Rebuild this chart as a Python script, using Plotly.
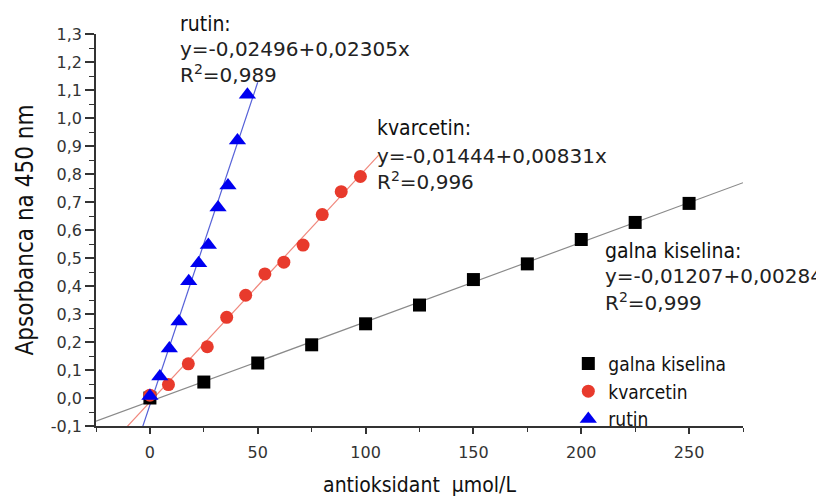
import plotly.graph_objects as go

# ---------------- data ----------------
series_names = ["galna kiselina", "kvarcetin", "rutin"]

gal_x = [0, 25, 50, 75, 100, 125, 150, 175, 200, 225, 250]
gal_y = [0.0, 0.057, 0.125, 0.19, 0.265, 0.332, 0.423, 0.479, 0.566, 0.627, 0.695]

kv_x = [0, 8.6, 17.8, 26.6, 35.6, 44.4, 53.3, 62.1, 71.0, 79.9, 88.7, 97.6]
kv_y = [0.01, 0.048, 0.122, 0.183, 0.288, 0.367, 0.443, 0.485, 0.546, 0.655, 0.737, 0.791]

rut_x = [0, 4.6, 9.0, 13.5, 18.0, 22.6, 27.1, 31.6, 36.2, 40.6, 45.2]
rut_y = [0.007, 0.077, 0.177, 0.273, 0.417, 0.481, 0.546, 0.68, 0.759, 0.92, 1.083]

# linear fits y = a + b x
fit_a = [-0.01207, -0.01444, -0.02496]
fit_b = [0.00284, 0.00831, 0.02305]
fit_r2 = ["0,999", "0,996", "0,989"]
fit_a_txt = ["-0,01207", "-0,01444", "-0,02496"]
fit_b_txt = ["0,00284", "0,00831x", "0,02305x"]
fit_x_start = [-25, -25, -25]
fit_x_end = [275, 106, 50]

x_tick_vals = [0, 50, 100, 150, 200, 250]
x_tick_text = ["0", "50", "100", "150", "200", "250"]
y_tick_vals = [-0.1, 0.0, 0.1, 0.2, 0.3, 0.4, 0.5, 0.6, 0.7, 0.8, 0.9, 1.0, 1.1, 1.2, 1.3]
y_tick_text = ["-0,1", "0,0", "0,1", "0,2", "0,3", "0,4", "0,5", "0,6", "0,7",
               "0,8", "0,9", "1,0", "1,1", "1,2", "1,3"]

# ---------------- style ----------------
COND = "DejaVu Sans Condensed, Liberation Sans Narrow, Roboto, sans-serif"
NUM = "DejaVu Sans, Arial, sans-serif"
marker_colors = ["#000000", "#e83a2c", "#0000f0"]
line_colors = ["#8a8a8a", "#f0877c", "#5560d8"]
symbols = ["square", "circle", "triangle-up"]
sizes = [13, 13, 15]

# plot area in page pixels (for placing the text blocks)
PX0, PW, PY0, PH = 96, 647, 34, 400

def px(x):
    return (x - PX0) / PW

def py(y):
    return (PY0 + PH - y) / PH

fig = go.Figure()

# fit lines first (underneath markers)
for i in range(3):
    xs = [fit_x_start[i], fit_x_end[i]]
    ys = [fit_a[i] + fit_b[i] * v for v in xs]
    fig.add_trace(go.Scatter(x=xs, y=ys, mode="lines",
                             line=dict(color=line_colors[i], width=1.2),
                             showlegend=False, hoverinfo="skip"))

data_x = [gal_x, kv_x, rut_x]
data_y = [gal_y, kv_y, rut_y]
for i in range(3):
    fig.add_trace(go.Scatter(x=data_x[i], y=data_y[i], mode="markers",
                             name=series_names[i],
                             marker=dict(symbol=symbols[i], size=sizes[i],
                                         color=marker_colors[i],
                                         line=dict(width=0))))

# equation annotations (page-pixel positions: left x, label y, eq y, R2 y)
label_pos = [(603, 255, 281, 307), (375, 130, 158, 184), (178, 24, 49, 75)]
for i in range(3):
    x0, y1, y2, y3 = label_pos[i]
    fig.add_annotation(x=px(x0), y=py(y1), xref="paper", yref="paper",
                       xanchor="left", yanchor="middle",
                       text=series_names[i] + ":", showarrow=False,
                       font=dict(family=COND, size=21, color="#111"))
    fig.add_annotation(x=px(x0), y=py(y2), xref="paper", yref="paper",
                       xanchor="left", yanchor="middle",
                       text="y=" + fit_a_txt[i] + "+" + fit_b_txt[i], showarrow=False,
                       font=dict(family=NUM, size=20, color="#222"))
    fig.add_annotation(x=px(x0), y=py(y3), xref="paper", yref="paper",
                       xanchor="left", yanchor="middle",
                       text="R<sup>2</sup>=" + fit_r2[i], showarrow=False,
                       font=dict(family=NUM, size=20, color="#222"))

# page body has an 8px margin, so the figure's own margins are shifted by 8
fig.update_layout(
    width=824, height=497,
    margin=dict(l=PX0 - 8, r=824 - (PX0 + PW - 8), t=PY0 - 8, b=497 - (PY0 + PH - 8)),
    paper_bgcolor="white", plot_bgcolor="white",
    legend=dict(x=0.730, y=0.2075, xanchor="left", yanchor="top",
                font=dict(family=COND, size=19, color="#111"),
                bgcolor="rgba(0,0,0,0)", tracegroupgap=0, itemwidth=30),
    showlegend=True,
)

fig.update_xaxes(range=[-25, 275], showgrid=False, zeroline=False,
                 showline=True, linecolor="#333", linewidth=1.5,
                 ticks="outside", ticklen=6, tickwidth=1.5, tickcolor="#333",
                 tickvals=x_tick_vals, ticktext=x_tick_text, ticklabelstandoff=5,
                 tickfont=dict(family=NUM, size=16, color="#333"),
                 minor=dict(ticks="outside", ticklen=4, tickwidth=1.2, tickcolor="#333", dtick=25, tick0=0),
                 title=dict(text="antioksidant\u00a0\u00a0μmol/L",
                            font=dict(family=COND, size=21, color="#111"), standoff=16))
fig.update_yaxes(range=[-0.1, 1.3], showgrid=False, zeroline=False,
                 showline=True, linecolor="#333", linewidth=1.5,
                 ticks="outside", ticklen=9, tickwidth=1.5, tickcolor="#333",
                 tickvals=y_tick_vals, ticktext=y_tick_text,
                 tickfont=dict(family=NUM, size=16, color="#333"),
                 minor=dict(ticks="outside", ticklen=5, tickwidth=1.2, tickcolor="#333", dtick=0.05, tick0=0),
                 title=dict(text="Apsorbanca na 450 nm",
                            font=dict(family=COND, size=24, color="#111"), standoff=10))

fig.write_html("out.html")
